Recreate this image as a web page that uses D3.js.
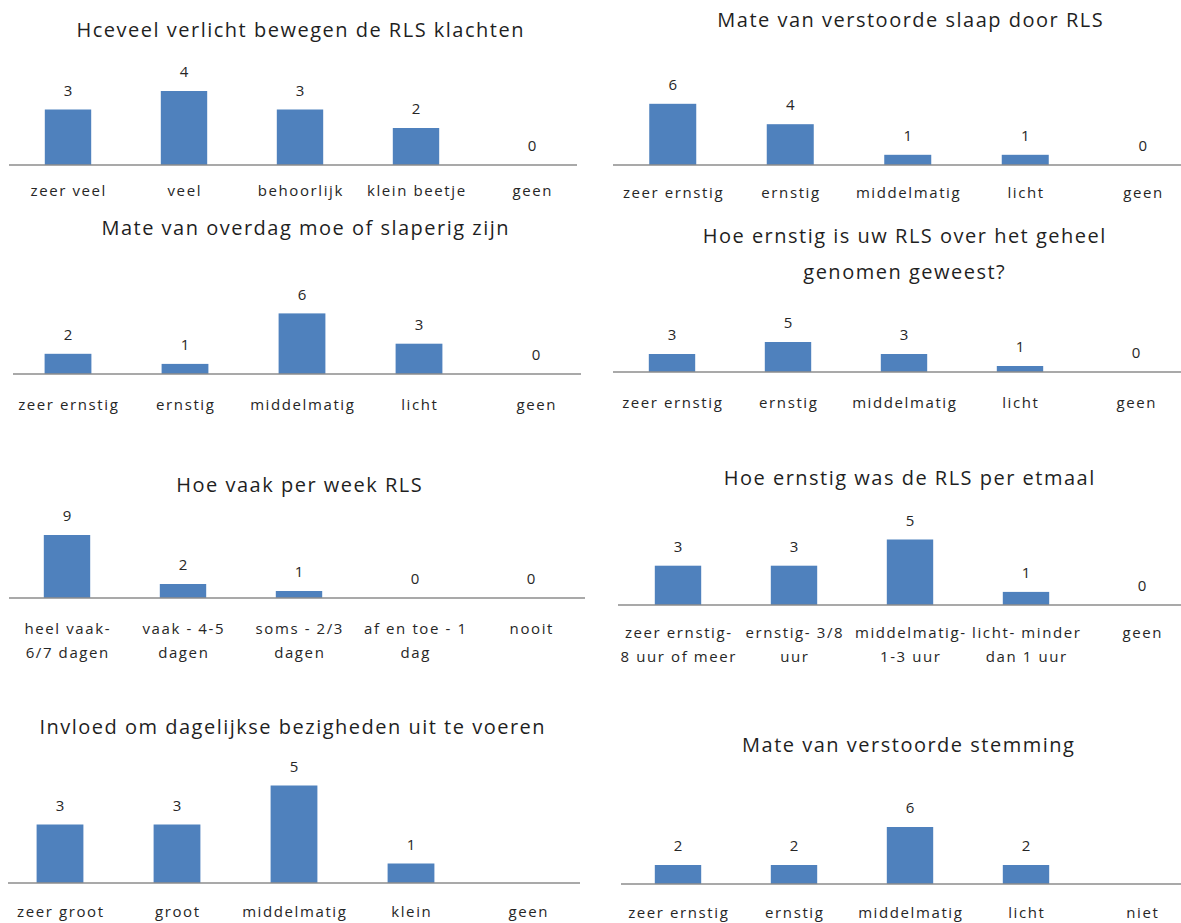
<!DOCTYPE html>
<html><head><meta charset="utf-8">
<script src="https://cdn.jsdelivr.net/npm/d3@7"></script>
<style>
html,body{margin:0;padding:0;background:#fff;}
svg{display:block;}
text{font-family:"Open Sans",sans-serif;}
</style></head>
<body>
<svg id="c" width="1181" height="923"></svg>
<script>
// ---- data ----
const title1 = ["Hceveel verlicht bewegen de RLS klachten"];
const cat1 = ["zeer veel","veel","behoorlijk","klein beetje","geen"];
const val1 = [3,4,3,2,0];

const title2 = ["Mate van verstoorde slaap door RLS"];
const cat2 = ["zeer ernstig","ernstig","middelmatig","licht","geen"];
const val2 = [6,4,1,1,0];

const title3 = ["Mate van overdag moe of slaperig zijn"];
const cat3 = ["zeer ernstig","ernstig","middelmatig","licht","geen"];
const val3 = [2,1,6,3,0];

const title4 = ["Hoe ernstig is uw RLS over het geheel","genomen geweest?"];
const cat4 = ["zeer ernstig","ernstig","middelmatig","licht","geen"];
const val4 = [3,5,3,1,0];

const title5 = ["Hoe vaak per week RLS"];
const cat5 = ["heel vaak-|6/7 dagen","vaak - 4-5|dagen","soms - 2/3|dagen","af en toe - 1|dag","nooit"];
const val5 = [9,2,1,0,0];

const title6 = ["Hoe ernstig was de RLS per etmaal"];
const cat6 = ["zeer ernstig-|8 uur of meer","ernstig- 3/8|uur","middelmatig-|1-3 uur","licht- minder|dan 1 uur","geen"];
const val6 = [3,3,5,1,0];

const title7 = ["Invloed om dagelijkse bezigheden uit te voeren"];
const cat7 = ["zeer groot","groot","middelmatig","klein","geen"];
const val7 = [3,3,5,1,null];

const title8 = ["Mate van verstoorde stemming"];
const cat8 = ["zeer ernstig","ernstig","middelmatig","licht","niet"];
const val8 = [2,2,6,2,null];

// ---- layout ----
const panels = [
  {t:title1,c:cat1,v:val1, x0:10,  step:116,   ay:165, unit:18.5, ax:[9,577],   tx:300, ty:[30],     ly:191},
  {t:title2,c:cat2,v:val2, x0:614, step:117.5, ay:165, unit:10.2, ax:[613,1181],tx:910, ty:[20],     ly:193},
  {t:title3,c:cat3,v:val3, x0:9.5, step:117,   ay:374, unit:10.1, ax:[13,581],  tx:305, ty:[228],    ly:405},
  {t:title4,c:cat4,v:val4, x0:614, step:116,   ay:372, unit:6,    ax:[613,1181],tx:904, ty:[236,272],ly:403},
  {t:title5,c:cat5,v:val5, x0:9,   step:116,   ay:598, unit:7,    ax:[9,585],   tx:299, ty:[485],    ly:629},
  {t:title6,c:cat6,v:val6, x0:620, step:116,   ay:605, unit:13.1, ax:[618,1181],tx:909, ty:[478],    ly:633},
  {t:title7,c:cat7,v:val7, x0:1.5, step:117,   ay:883, unit:19.5, ax:[8,580],   tx:292, ty:[727],    ly:912},
  {t:title8,c:cat8,v:val8, x0:620, step:116,   ay:884, unit:9.5,  ax:[621,1181],tx:908, ty:[745],    ly:913}
];

const svg = d3.select("#c");
const BAR = "#4F81BD";
const TLS = 1.5, LLS = 1.6;

panels.forEach(p => {
  const g = svg.append("g");
  const x = d3.scaleBand().domain(p.c).range([p.x0, p.x0 + p.step*p.c.length])
              .paddingInner(0.6).paddingOuter(0.3);
  const y = d3.scaleLinear().domain([0,10]).range([p.ay, p.ay - 10*p.unit]);

  // title
  p.t.forEach((line,i) => {
    g.append("text").attr("x",p.tx + TLS/2).attr("y",p.ty[i]).attr("dy","0.35em")
     .attr("text-anchor","middle").attr("font-size",20).attr("letter-spacing",TLS)
     .attr("fill","#1f1f1f").text(line);
  });

  // bars
  const data = p.c.map((c,i)=>({c, v:p.v[i]}));
  g.selectAll("rect.bar").data(data.filter(d=>d.v!==null && d.v>0)).enter().append("rect")
    .attr("x", d=>x(d.c)).attr("width", x.bandwidth())
    .attr("y", d=>y(d.v)).attr("height", d=>y(0)-y(d.v)).attr("fill",BAR);

  // value labels
  g.selectAll("text.val").data(data.filter(d=>d.v!==null)).enter().append("text")
    .attr("x", d=>x(d.c)+x.bandwidth()/2).attr("y", d=>y(d.v)-19).attr("dy","0.35em")
    .attr("text-anchor","middle").attr("font-size",15).attr("fill","#262626").text(d=>d.v);

  // axis (category axis without ticks)
  const axis = d3.axisBottom(x).tickSize(0).tickFormat("");
  const ag = g.append("g").attr("transform",`translate(0,${p.ay})`).call(axis);
  ag.select(".domain").attr("d",`M${p.ax[0]},0H${p.ax[1]}`).attr("stroke","#8c8c8c").attr("stroke-width",1.5);

  // category labels
  data.forEach(d => {
    const cx = x(d.c)+x.bandwidth()/2 + LLS/2;
    const lines = d.c.split("|");
    const t = g.append("text").attr("x", cx).attr("y", p.ly)
      .attr("text-anchor","middle").attr("font-size",15).attr("letter-spacing",LLS).attr("fill","#262626");
    lines.forEach((ln,i)=>{
      t.append("tspan").attr("x", cx).attr("dy", i===0? "0.35em":"1.55em").text(ln);
    });
  });
});
</script>
</body></html>
